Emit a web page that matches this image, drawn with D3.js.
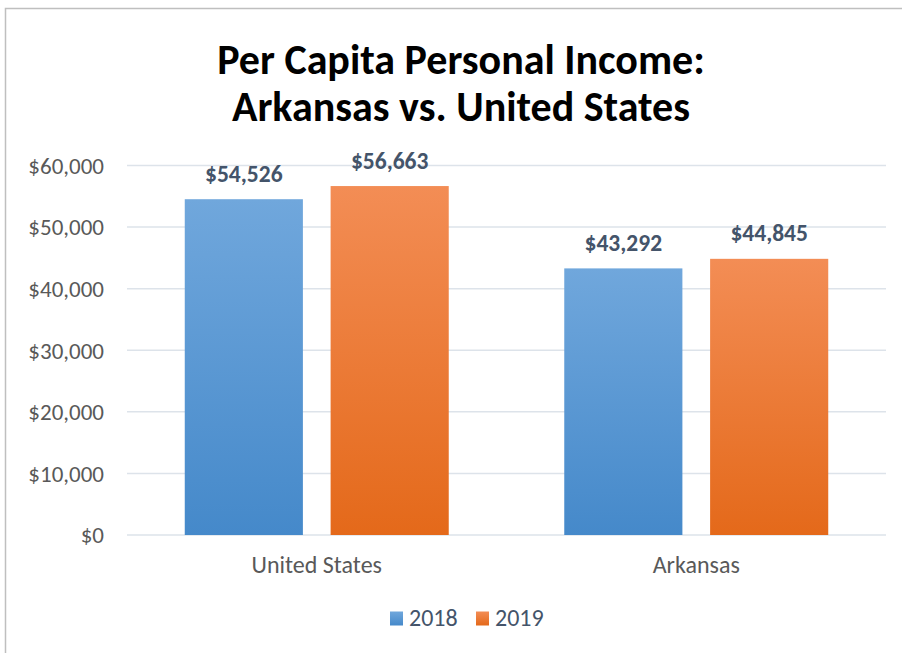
<!DOCTYPE html>
<html>
<head>
<meta charset="utf-8">
<script src="https://cdn.jsdelivr.net/npm/d3@7"></script>
<style>
  body { margin: 0; background: #fff; }
  svg, svg text { font-family: Carlito, Calibri, "Open Sans", sans-serif; }
  svg { display: block; }
</style>
</head>
<body>
<div id="chart"></div>
<script>
const categories = ["United States", "Arkansas"];
const years = ["2018", "2019"];
const income2018 = [54526, 43292];
const income2019 = [56663, 44845];
const yTicks = [0, 10000, 20000, 30000, 40000, 50000, 60000];

const width = 902;
const height = 653;
const margin = { top: 165.5, right: 16, bottom: 118, left: 127 };

const svg = d3.select("#chart")
    .append("svg")
    .attr("width", width)
    .attr("height", height);

// frame of the chart box
svg.append("path")
    .attr("d", `M5.5,${height} V8.5 H${width}`)
    .attr("fill", "none")
    .attr("stroke", "#bfbfbf")
    .attr("stroke-width", 1.5);

const defs = svg.append("defs");
const grads = [
    { id: "g2018", top: "#70a7dc", bottom: "#4589ca" },
    { id: "g2019", top: "#f38d55", bottom: "#e4691a" }
];
grads.forEach(g => {
    const lg = defs.append("linearGradient")
        .attr("id", g.id)
        .attr("x1", 0).attr("y1", 0).attr("x2", 0).attr("y2", 1);
    lg.append("stop").attr("offset", "0%").attr("stop-color", g.top);
    lg.append("stop").attr("offset", "100%").attr("stop-color", g.bottom);
});

const y = d3.scaleLinear()
    .domain([0, 60000])
    .range([height - margin.bottom, margin.top]);

const x0 = d3.scaleBand()
    .domain(categories)
    .range([margin.left, width - margin.right]);

const x1 = d3.scaleBand()
    .domain(years)
    .range([0, x0.bandwidth()])
    .paddingInner(0.19)
    .paddingOuter(0.396);

// gridlines
svg.append("g")
    .selectAll("line")
    .data(yTicks)
    .enter().append("line")
    .attr("x1", margin.left)
    .attr("x2", width - margin.right)
    .attr("y1", d => y(d))
    .attr("y2", d => y(d))
    .attr("stroke", "#dde3ea")
    .attr("stroke-width", 1.5);

// y axis labels
const yAxis = svg.append("g")
    .attr("transform", `translate(${margin.left},0)`)
    .call(d3.axisLeft(y).tickValues(yTicks).tickSize(0).tickPadding(23)
        .tickFormat(d => "$" + d3.format(",")(d)));
yAxis.attr("font-family", null).attr("font-size", null);
yAxis.select(".domain").remove();
yAxis.selectAll("text")
    .attr("fill", "#595959")
    .attr("dy", "0.34em")
    .style("font-size", "23px");

const rows = categories.map((c, i) => ({
    category: c,
    values: [
        { year: years[0], value: income2018[i] },
        { year: years[1], value: income2019[i] }
    ]
}));

const groups = svg.append("g")
    .selectAll("g")
    .data(rows)
    .enter().append("g")
    .attr("transform", d => `translate(${x0(d.category)},0)`);

groups.selectAll("rect")
    .data(d => d.values)
    .enter().append("rect")
    .attr("x", d => x1(d.year))
    .attr("y", d => y(d.value))
    .attr("width", x1.bandwidth())
    .attr("height", d => y(0) - y(d.value))
    .attr("fill", d => `url(#g${d.year})`);

groups.selectAll("text")
    .data(d => d.values)
    .enter().append("text")
    .attr("x", d => x1(d.year) + x1.bandwidth() / 2)
    .attr("y", d => y(d.value) - 17.5)
    .attr("text-anchor", "middle")
    .attr("fill", "#44546a")
    .style("font-size", "23.5px")
    .style("font-weight", "bold")
    .text(d => "$" + d3.format(",")(d.value));

// category labels
const xAxis = svg.append("g")
    .attr("transform", `translate(0,${y(0)})`)
    .call(d3.axisBottom(x0).tickSize(0).tickPadding(21));
xAxis.attr("font-family", null).attr("font-size", null);
xAxis.select(".domain").remove();
xAxis.selectAll("text")
    .attr("fill", "#595959")
    .style("font-size", "24px");

// title
const title = svg.append("text")
    .attr("text-anchor", "middle")
    .attr("fill", "#000")
    .style("font-size", "42px")
    .style("font-weight", "bold");
title.append("tspan").attr("x", 461).attr("y", 74).text("Per Capita Personal Income:");
title.append("tspan").attr("x", 461).attr("y", 121).text("Arkansas vs. United States");

// legend
const legend = svg.append("g")
    .attr("transform", "translate(390,618)");
const items = legend.selectAll("g")
    .data(years)
    .enter().append("g")
    .attr("transform", (d, i) => `translate(${i * 86},0)`);
items.append("rect")
    .attr("x", 0).attr("y", -6.5)
    .attr("width", 13).attr("height", 14)
    .attr("fill", d => `url(#g${d})`);
items.append("text")
    .attr("x", 19)
    .attr("y", 8)
    .attr("fill", "#44546a")
    .style("font-size", "24px")
    .text(d => d);
</script>
</body>
</html>
